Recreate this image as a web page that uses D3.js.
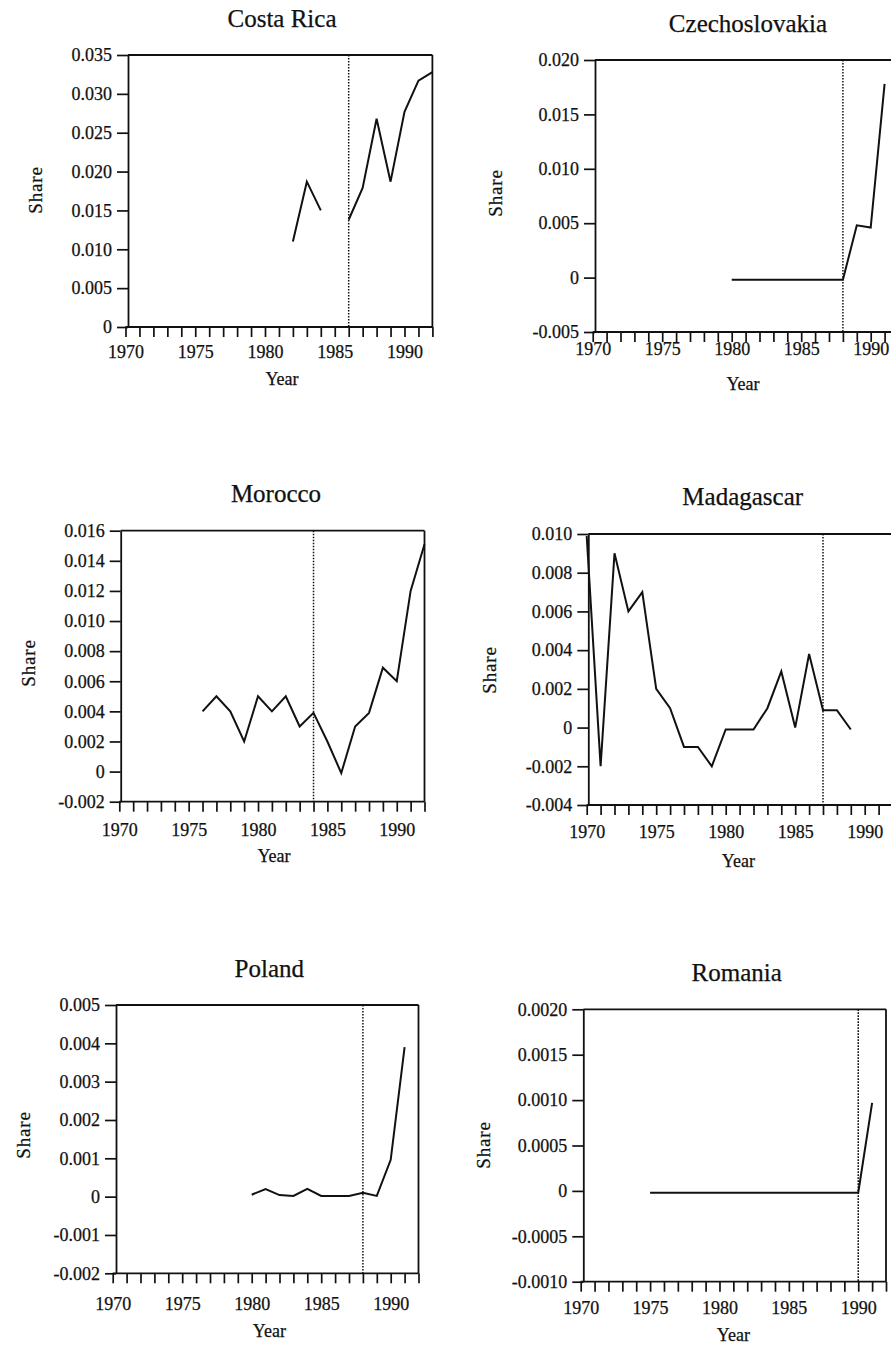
<!DOCTYPE html>
<html><head><meta charset="utf-8">
<script src="https://cdn.jsdelivr.net/npm/d3@7"></script>
<style>
body{margin:0;background:#fff}
svg{display:block}
text{font-family:"Liberation Serif","Times New Roman",serif;fill:#111;stroke:#111;stroke-width:0.25px}
</style>
</head><body>
<svg id="chart" width="891" height="1348"></svg>
<script>
// ---------------- DATA ----------------
const countries = ["Costa Rica", "Czechoslovakia", "Morocco", "Madagascar", "Poland", "Romania"];
const reformYears = [1986, 1988, 1984, 1987, 1988, 1990];

const costaRicaYears = [1982,1983,1984,1985,1986,1987,1988,1989,1990,1991,1992];
const costaRicaShare = [0.011,0.0187,0.015,null,0.0138,0.0179,0.0268,0.0187,0.0277,0.0317,0.0328];

const czechYears = [1980,1981,1982,1983,1984,1985,1986,1987,1988,1989,1990,1991];
const czechShare = [-0.0002,-0.0002,-0.0002,-0.0002,-0.0002,-0.0002,-0.0002,-0.0002,-0.0002,0.0048,0.0046,0.0178];

const moroccoYears = [1976,1977,1978,1979,1980,1981,1982,1983,1984,1985,1986,1987,1988,1989,1990,1991,1992];
const moroccoShare = [0.004,0.005,0.004,0.002,0.005,0.004,0.005,0.003,0.0039,0.002,-0.0001,0.003,0.0039,0.0069,0.006,0.012,0.0151];

const madagascarYears = [1970,1971,1972,1973,1974,1975,1976,1977,1978,1979,1980,1981,1982,1983,1984,1985,1986,1987,1988,1989];
const madagascarShare = [0.0099,-0.002,0.009,0.006,0.007,0.002,0.001,-0.001,-0.001,-0.002,-0.0001,-0.0001,-0.0001,0.001,0.0029,0.0,0.0038,0.0009,0.0009,-0.0001];

const polandYears = [1980,1981,1982,1983,1984,1985,1986,1987,1988,1989,1990,1991];
const polandShare = [0.00005,0.0002,0.00004,0.00002,0.0002,0.00002,0.00002,0.00002,0.0001,0.00002,0.00096,0.0039];

const romaniaYears = [1975,1976,1977,1978,1979,1980,1981,1982,1983,1984,1985,1986,1987,1988,1989,1990,1991];
const romaniaShare = [-0.00002,-0.00002,-0.00002,-0.00002,-0.00002,-0.00002,-0.00002,-0.00002,-0.00002,-0.00002,-0.00002,-0.00002,-0.00002,-0.00002,-0.00002,-0.00002,0.00097];

const costaRicaTicks = [0,0.005,0.010,0.015,0.020,0.025,0.030,0.035];
const costaRicaTickLabels = ["0","0.005","0.010","0.015","0.020","0.025","0.030","0.035"];
const czechTicks = [-0.005,0,0.005,0.010,0.015,0.020];
const czechTickLabels = ["-0.005","0","0.005","0.010","0.015","0.020"];
const moroccoTicks = [-0.002,0,0.002,0.004,0.006,0.008,0.010,0.012,0.014,0.016];
const moroccoTickLabels = ["-0.002","0","0.002","0.004","0.006","0.008","0.010","0.012","0.014","0.016"];
const madagascarTicks = [-0.004,-0.002,0,0.002,0.004,0.006,0.008,0.010];
const madagascarTickLabels = ["-0.004","-0.002","0","0.002","0.004","0.006","0.008","0.010"];
const polandTicks = [-0.002,-0.001,0,0.001,0.002,0.003,0.004,0.005];
const polandTickLabels = ["-0.002","-0.001","0","0.001","0.002","0.003","0.004","0.005"];
const romaniaTicks = [-0.0010,-0.0005,0,0.0005,0.0010,0.0015,0.0020];
const romaniaTickLabels = ["-0.0010","-0.0005","0","0.0005","0.0010","0.0015","0.0020"];

const yearTicks = d3.range(1970, 1993);
const yearLabelYears = [1970,1975,1980,1985,1990];

const seriesYears = [costaRicaYears, czechYears, moroccoYears, madagascarYears, polandYears, romaniaYears];
const seriesShare = [costaRicaShare, czechShare, moroccoShare, madagascarShare, polandShare, romaniaShare];
const tickVals = [costaRicaTicks, czechTicks, moroccoTicks, madagascarTicks, polandTicks, romaniaTicks];
const tickLabs = [costaRicaTickLabels, czechTickLabels, moroccoTickLabels, madagascarTickLabels, polandTickLabels, romaniaTickLabels];

// ---------------- LAYOUT ----------------
const layout = [
  {x0:125.5, x1:432.4, axisX:128,   yTop:55,    yBot:327,    titleX:282,   titleY:27,    shareX:35,    shareY:190,  yearX:282,   yearY:385,    xPad:8},
  {x0:592.7, x1:898.5, axisX:595,   yTop:60,    yBot:332,    titleX:748,   titleY:31.5,  shareX:495.5, shareY:193,  yearX:743,   yearY:390,    xPad:0},
  {x0:119.3, x1:424.5, axisX:120.7, yTop:530.7, yBot:801.7,  titleX:276,   titleY:501.5, shareX:28.5,  shareY:663,  yearX:274,   yearY:861.5,  xPad:12},
  {x0:586.7, x1:892.5, axisX:588.3, yTop:534,   yBot:805,    titleX:742.7, titleY:505,   shareX:489.5, shareY:670,  yearX:738.3, yearY:866.5,  xPad:10},
  {x0:112.7, x1:418.5, axisX:116,   yTop:1005,  yBot:1273.3, titleX:269.3, titleY:976.5, shareX:23.5,  shareY:1135, yearX:269.3, yearY:1337,   xPad:13.5},
  {x0:580.7, x1:886,   axisX:583.3, yTop:1009.3,yBot:1281.7, titleX:736.7, titleY:980.5, shareX:483.5, shareY:1145, yearX:733.3, yearY:1340.5, xPad:10}
];

const svg = d3.select("#chart");
const ink = "#111";
const serif = '"Liberation Serif","Times New Roman",serif';

countries.forEach((name, i) => {
  const L = layout[i];
  const ticks = tickVals[i];
  const x = d3.scaleLinear().domain([1970, 1992]).range([L.x0, L.x1]);
  const y = d3.scaleLinear().domain([ticks[0], ticks[ticks.length - 1]]).range([L.yBot, L.yTop]);
  const g = svg.append("g");

  // frame
  g.append("line").attr("x1", L.axisX).attr("x2", L.x1).attr("y1", L.yTop).attr("y2", L.yTop)
    .attr("stroke", ink).attr("stroke-width", 1.8);
  g.append("line").attr("x1", L.x1).attr("x2", L.x1).attr("y1", L.yTop).attr("y2", L.yBot)
    .attr("stroke", ink).attr("stroke-width", 1.8);

  // y axis
  const yAxis = d3.axisLeft(y).tickValues(ticks).tickFormat((d, k) => tickLabs[i][k])
    .tickSize(11).tickSizeOuter(0).tickPadding(5);
  const ya = g.append("g").attr("transform", `translate(${L.axisX},0)`).call(yAxis);
  ya.select(".domain").attr("stroke", ink).attr("stroke-width", 1.8);
  ya.selectAll(".tick line").attr("stroke", ink).attr("stroke-width", 1.7);
  ya.selectAll(".tick text").attr("font-size", 18).attr("fill", ink)
    .style("font-family", serif);

  // x axis
  const xAxis = d3.axisBottom(x).tickValues(yearTicks)
    .tickFormat(d => yearLabelYears.includes(d) ? String(d) : "")
    .tickSize(10).tickSizeOuter(0).tickPadding(L.xPad);
  const xa = g.append("g").attr("transform", `translate(0,${L.yBot})`).call(xAxis);
  xa.select(".domain").remove();
  g.append("line").attr("x1", L.x0).attr("x2", L.x1).attr("y1", L.yBot).attr("y2", L.yBot)
    .attr("stroke", ink).attr("stroke-width", 1.8);
  xa.selectAll(".tick line").attr("stroke", ink).attr("stroke-width", 1.7);
  xa.selectAll(".tick text").attr("font-size", 18).attr("fill", ink)
    .style("font-family", serif);

  // reform (dotted) line
  g.append("line")
    .attr("x1", x(reformYears[i])).attr("x2", x(reformYears[i]))
    .attr("y1", L.yTop).attr("y2", L.yBot)
    .attr("stroke", ink).attr("stroke-width", 1.5).attr("stroke-dasharray", "1.6,1.4");

  // data line
  const pts = seriesYears[i].map((yr, k) => ({yr, v: seriesShare[i][k]}));
  const line = d3.line().defined(d => d.v !== null).x(d => x(d.yr)).y(d => y(d.v));
  g.append("path").datum(pts).attr("d", line)
    .attr("fill", "none").attr("stroke", ink).attr("stroke-width", 2)
    .attr("stroke-linejoin", "miter");

  // labels
  g.append("text").attr("x", L.titleX).attr("y", L.titleY).attr("text-anchor", "middle")
    .attr("font-size", 25).text(name);
  g.append("text").attr("x", L.yearX).attr("y", L.yearY).attr("text-anchor", "middle")
    .attr("font-size", 18).text("Year");
  g.append("text").attr("transform", `translate(${L.shareX},${L.shareY}) rotate(-90)`)
    .attr("text-anchor", "middle").attr("dy", "0.35em")
    .attr("font-size", 19).attr("letter-spacing", 0.8).text("Share");
});
</script>
</body></html>
